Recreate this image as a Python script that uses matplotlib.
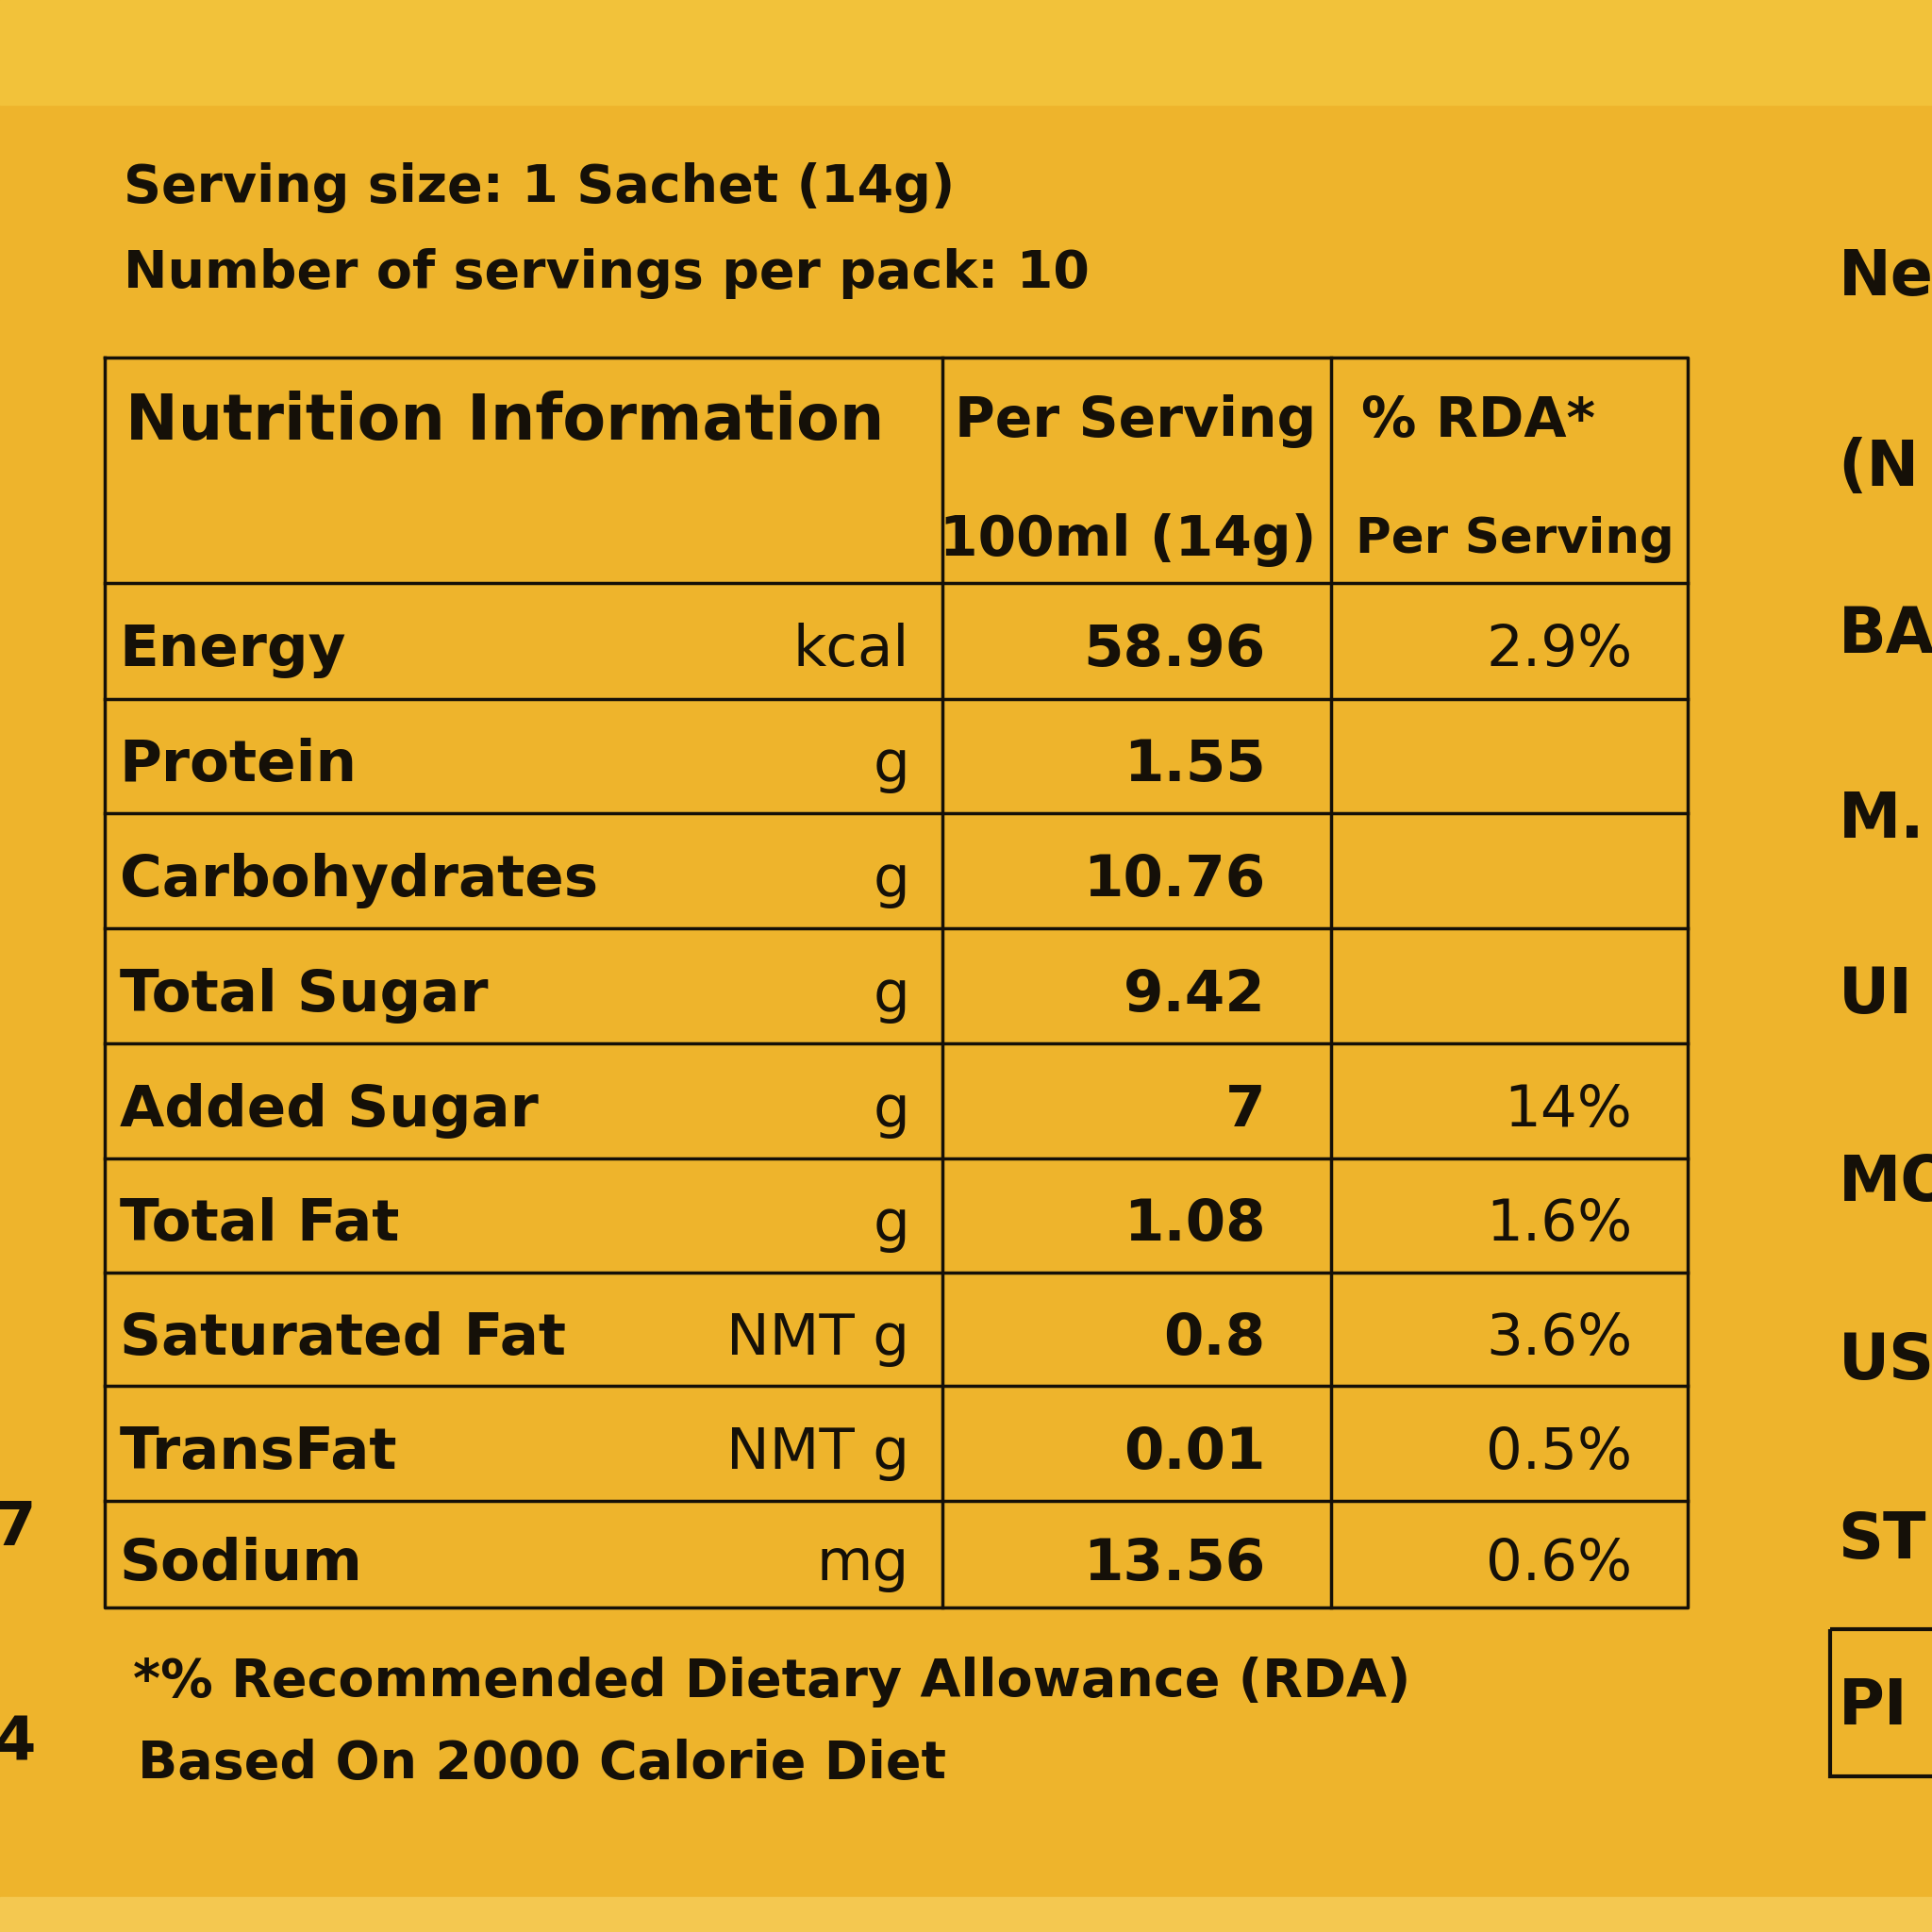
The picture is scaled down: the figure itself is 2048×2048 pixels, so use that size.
import matplotlib
matplotlib.use("Agg")
import matplotlib.pyplot as plt

nutrients = ["Energy", "Protein", "Carbohydrates", "Total Sugar", "Added Sugar",
             "Total Fat", "Saturated Fat", "TransFat", "Sodium"]
units = ["kcal", "g", "g", "g", "g", "g", "NMT g", "NMT g", "mg"]
values = ["58.96", "1.55", "10.76", "9.42", "7", "1.08", "0.8", "0.01", "13.56"]
rda = ["2.9%", "", "", "", "14%", "1.6%", "3.6%", "0.5%", "0.6%"]
side_fragments = ["Ne", "(N", "BA", "M.", "UI", "MO", "US", "ST", "PI"]

FAM = ["DejaVu Sans Condensed", "Liberation Sans Narrow", "DejaVu Sans"]
plt.rcParams["font.family"] = FAM

fig = plt.figure(figsize=(20.48, 20.48), dpi=100)
fig.patch.set_facecolor("#EEB42C")
ax = fig.add_axes([0, 0, 1, 1])
ax.set_xlim(0, 1568); ax.set_ylim(1568, 0); ax.axis("off")
ax.add_patch(plt.Rectangle((0, 0), 1568, 85, color="#F2C23A", zorder=0))
ax.add_patch(plt.Rectangle((0, 1540), 1568, 28, color="#F4C850", zorder=0))

c = "#151008"
ax.text(100, 152, "Serving size: 1 Sachet (14g)", fontsize=40, weight="bold", va="center", color=c)
ax.text(100, 222, "Number of servings per pack: 10", fontsize=40, weight="bold", va="center", color=c)

L, C1, C2, R = 85, 765, 1080, 1370
top = 290
rows = [473, 567, 660, 753, 847, 940, 1033, 1125, 1218, 1305]
lw = 2.5
ax.plot([L, R, R, L, L], [top, top, 1305, 1305, top], color=c, lw=lw)
for x in (C1, C2):
    ax.plot([x, x], [top, 1305], color=c, lw=lw)
for y in rows[:-1]:
    ax.plot([L, R], [y, y], color=c, lw=lw)

ax.text(102, 342, "Nutrition Information", fontsize=48, weight="bold", va="center", color=c)
ax.text(1068, 342, "Per Serving", fontsize=42, weight="bold", va="center", ha="right", color=c)
ax.text(1068, 438, "100ml (14g)", fontsize=42, weight="bold", va="center", ha="right", color=c)
ax.text(1105, 342, "% RDA*", fontsize=42, weight="bold", va="center", color=c)
ax.text(1100, 438, "Per Serving", fontsize=37, weight="bold", va="center", color=c)

for i, (n, u, v, r) in enumerate(zip(nutrients, units, values, rda)):
    yc = (rows[i] + rows[i + 1]) / 2 + 8
    ax.text(97, yc, n, fontsize=44, weight="bold", va="center", color=c)
    ax.text(738, yc, u, fontsize=44, va="center", ha="right", color=c)
    ax.text(1027, yc, v, fontsize=44, weight="bold", va="center", ha="right", color=c)
    if r:
        ax.text(1325, yc, r, fontsize=44, va="center", ha="right", color=c)

ax.text(108, 1365, "*% Recommended Dietary Allowance (RDA)", fontsize=40, weight="bold", va="center", color=c)
ax.text(112, 1432, "Based On 2000 Calorie Diet", fontsize=40, weight="bold", va="center", color=c)

ys = [225, 380, 515, 665, 808, 960, 1105, 1250, 1385]
for t, y in zip(side_fragments, ys):
    ax.text(1492, y, t, fontsize=48, weight="bold", va="center", color=c, clip_on=True)
ax.add_patch(plt.Rectangle((1485, 1322), 120, 120, fill=False, ec=c, lw=3))
ax.text(-5, 1240, "7", fontsize=46, weight="bold", va="center", color=c, clip_on=True)
ax.text(-5, 1415, "4", fontsize=46, weight="bold", va="center", color=c, clip_on=True)

fig.savefig("out.png", dpi=100, facecolor=fig.get_facecolor())
